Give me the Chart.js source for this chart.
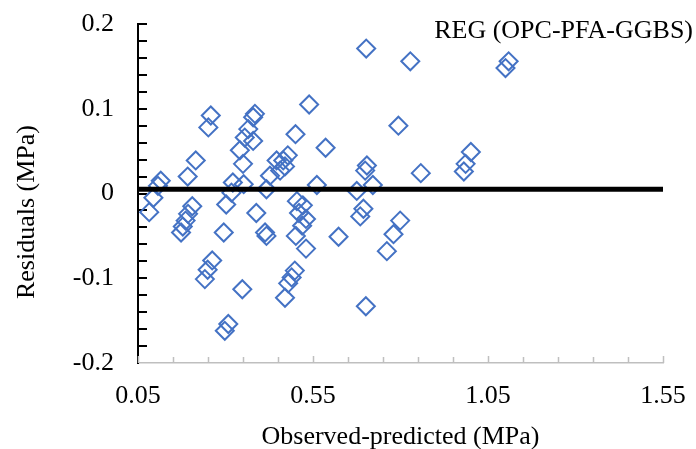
<!DOCTYPE html>
<html>
<head>
<meta charset="utf-8">
<title>Residuals</title>
<script src="https://cdn.jsdelivr.net/npm/chart.js@4.4.1/dist/chart.umd.min.js"></script>
<style>
  html, body { margin: 0; padding: 0; background: #fff; }
  #wrap { width: 696px; height: 449px; }
</style>
</head>
<body>
<div id="wrap"><canvas id="chart" width="696" height="449"></canvas></div>
<script>
// residual points
const residX = [
  0.082, 0.094, 0.107, 0.115, 0.192, 0.215, 0.205, 0.193, 0.186, 0.178,
  0.173, 0.258, 0.251, 0.262, 0.249, 0.241, 0.348, 0.308, 0.298, 0.295,
  0.302, 0.317, 0.321, 0.352, 0.341, 0.350, 0.355, 0.365, 0.379, 0.379,
  0.384, 0.388, 0.413, 0.417, 0.417, 0.427, 0.456, 0.470, 0.465, 0.446,
  0.478, 0.500, 0.539, 0.504, 0.521, 0.510, 0.530, 0.519, 0.501, 0.530,
  0.498, 0.489, 0.479, 0.470, 0.561, 0.586, 0.623, 0.675, 0.721, 0.702,
  0.704, 0.699, 0.694, 0.685, 0.701, 0.761, 0.780, 0.794, 0.799, 0.828,
  0.858, 0.981, 0.986, 1.001, 1.100, 1.109
];
const residY = [
  -0.022, -0.005, 0.009, 0.015, 0.020, 0.039, -0.015, -0.024, -0.032, -0.039,
  -0.046, 0.092, 0.078, -0.079, -0.090, -0.101, -0.113, -0.154, -0.162, -0.046,
  -0.013, 0.001, 0.013, 0.011, 0.051, 0.035, 0.066, 0.076, 0.062, 0.090,
  0.094, -0.023, -0.046, -0.050, 0.005, 0.021, 0.027, 0.032, 0.039, 0.039,
  0.045, 0.070, 0.105, -0.009, -0.014, -0.023, -0.030, -0.038, -0.050, -0.065,
  -0.091, -0.099, -0.106, -0.123, 0.010, 0.054, -0.051, 0.003, 0.010, 0.171,
  0.033, 0.027, -0.018, -0.027, -0.133, -0.068, -0.048, 0.080, -0.032, 0.156,
  0.024, 0.026, 0.035, 0.049, 0.148, 0.156
];

// thick reference line just above zero
const refLineX = [0.05, 1.55];
const refLineY = [0.005, 0.005];

const xTicks = [0.05, 0.55, 1.05, 1.55];
const yTicks = [-0.2, -0.1, 0, 0.1, 0.2];

const FONT = "'Liberation Serif', 'Times New Roman', serif";
const BLUE = "#4472C4";

const points = residX.map((x, i) => ({ x: x, y: residY[i] }));
const refLine = refLineX.map((x, i) => ({ x: x, y: refLineY[i] }));

// minor tick marks drawn inside the plot, plus the text labels
const decorations = {
  id: "decorations",
  beforeDatasetsDraw(chart) {
    const ctx = chart.ctx;
    const xs = chart.scales.x;
    const ys = chart.scales.y;
    ctx.save();
    // y axis: black ticks every 0.02
    ctx.strokeStyle = "#000";
    ctx.lineWidth = 2;
    for (let i = -9; i <= 10; i++) {
      const py = Math.round(ys.getPixelForValue(i * 0.02));
      ctx.beginPath();
      ctx.moveTo(xs.left, py);
      ctx.lineTo(xs.left + 9, py);
      ctx.stroke();
    }
    // x axis: grey ticks every 0.1
    ctx.strokeStyle = "#BFBFBF";
    ctx.lineWidth = 1.5;
    for (let i = 0; i <= 15; i++) {
      const px = Math.round(xs.getPixelForValue(0.05 + i * 0.1)) + 0.5;
      ctx.beginPath();
      ctx.moveTo(px, ys.bottom);
      ctx.lineTo(px, ys.bottom - (i % 5 === 0 ? 7 : 6));
      ctx.stroke();
    }
    ctx.restore();
  },
  afterDraw(chart) {
    const ctx = chart.ctx;
    ctx.save();
    ctx.fillStyle = "#000";
    ctx.font = "26px " + FONT;

    // series label, top right
    ctx.textAlign = "right";
    ctx.textBaseline = "alphabetic";
    ctx.fillText("REG (OPC-PFA-GGBS)", 693, 38);

    // x axis title
    ctx.textAlign = "center";
    ctx.fillText("Observed-predicted (MPa)", (chart.chartArea.left + chart.chartArea.right) / 2, 444);

    // y axis title
    ctx.translate(27, 212);
    ctx.rotate(-Math.PI / 2);
    ctx.textBaseline = "middle";
    ctx.fillText("Residuals (MPa)", 0, 0);
    ctx.restore();
  }
};

const chart = new Chart(document.getElementById("chart").getContext("2d"), {
  type: "scatter",
  data: {
    datasets: [
      {
        type: "line",
        data: refLine,
        borderColor: "#000",
        borderWidth: 5,
        borderCapStyle: "square",
        pointRadius: 0,
        fill: false
      },
      {
        data: points,
        pointStyle: "rectRot",
        pointRadius: 9,
        borderColor: BLUE,
        borderWidth: 2,
        backgroundColor: "rgba(0,0,0,0)"
      }
    ]
  },
  options: {
    responsive: false,
    animation: false,
    events: [],
    layout: { padding: { top: 24, right: 33, left: 0, bottom: 0 } },
    plugins: {
      legend: { display: false },
      tooltip: { enabled: false }
    },
    scales: {
      x: {
        type: "linear",
        min: 0.05,
        max: 1.55,
        afterBuildTicks: (scale) => {
          scale.ticks = xTicks.map(v => ({ value: v }));
        },
        afterFit: (scale) => {
          scale.height = 86;
          scale.paddingLeft = 0;
          scale.paddingRight = 0;
        },
        grid: { display: false, drawTicks: false },
        border: { display: true, color: "#BFBFBF", width: 1.5 },
        ticks: {
          padding: 18,
          color: "#000",
          font: { family: FONT, size: 26 },
          callback: (v) => Number(v).toFixed(2)
        }
      },
      y: {
        type: "linear",
        min: -0.2,
        max: 0.2,
        afterBuildTicks: (scale) => {
          scale.ticks = yTicks.map(v => ({ value: v }));
        },
        afterFit: (scale) => {
          scale.width = 138;
          scale.paddingTop = 0;
          scale.paddingBottom = 0;
        },
        grid: { display: false, drawTicks: false },
        border: { display: true, color: "#000", width: 2 },
        ticks: {
          padding: 24,
          color: "#000",
          font: { family: FONT, size: 26 },
          callback: (v) => {
            const r = Math.round(v * 10) / 10;
            return r === 0 ? "0" : String(r);
          }
        }
      }
    }
  },
  plugins: [decorations]
});
</script>
</body>
</html>
